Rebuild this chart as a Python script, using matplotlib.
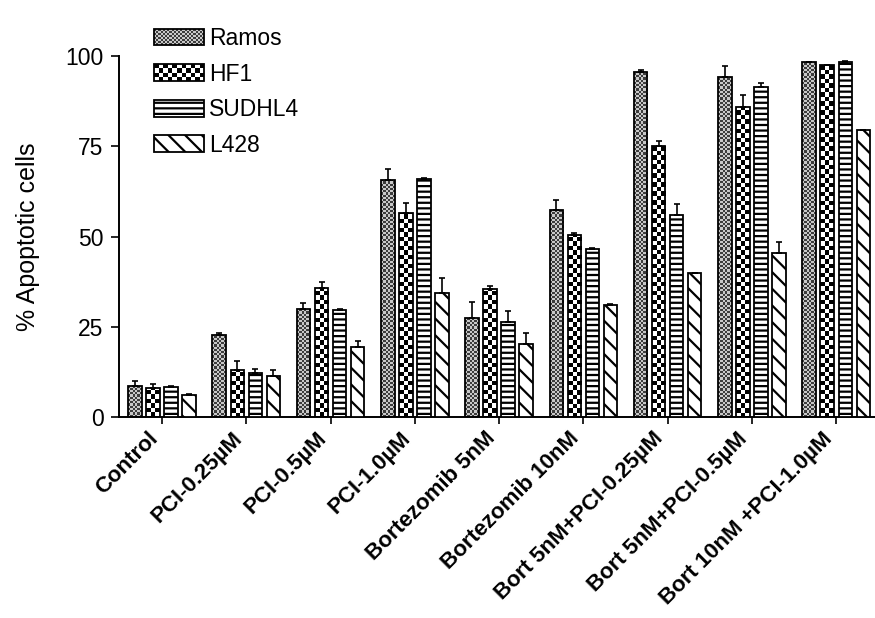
import numpy as np
import matplotlib
matplotlib.use("Agg")
import matplotlib.pyplot as plt
from matplotlib.colors import ListedColormap
from matplotlib.patches import Rectangle
from matplotlib.legend_handler import HandlerBase

plt.rcParams['font.family'] = ['Liberation Sans', 'DejaVu Sans']
plt.rcParams['hatch.linewidth'] = 1.6

treatments = ["Control", "PCI-0.25µM", "PCI-0.5µM", "PCI-1.0µM",
              "Bortezomib 5nM", "Bortezomib 10nM", "Bort 5nM+PCI-0.25µM",
              "Bort 5nM+PCI-0.5µM", "Bort 10nM +PCI-1.0µM"]
cell_lines = ["Ramos", "HF1", "SUDHL4", "L428"]

ramos = [8.6, 22.7, 29.9, 65.6, 27.3, 57.3, 95.6, 94.3, 98.2]
ramos_err = [1.4, 0.5, 1.8, 3.1, 4.6, 2.9, 0.5, 2.9, 0.0]
hf1 = [7.9, 13.0, 35.6, 56.4, 35.4, 50.4, 75.1, 86.0, 97.6]
hf1_err = [1.2, 2.6, 1.7, 2.9, 0.9, 0.6, 1.4, 3.2, 0.0]
sudhl4 = [8.2, 12.1, 29.6, 66.0, 26.3, 46.4, 56.0, 91.5, 98.2]
sudhl4_err = [0.3, 1.3, 0.3, 0.3, 3.0, 0.3, 2.9, 1.1, 0.5]
l428 = [6.1, 11.4, 19.3, 34.3, 20.3, 31.0, 40.0, 45.5, 79.6]
l428_err = [0.3, 1.6, 1.8, 4.2, 2.9, 0.3, 0.0, 2.9, 0.0]

values = [ramos, hf1, sudhl4, l428]
errors = [ramos_err, hf1_err, sudhl4_err, l428_err]

# fill styles: checker (cell px, dark, light) or hatch
styles = [
    dict(kind="checker", cell=2.2, dark="#3c3c3c", light="#c8c8c8"),
    dict(kind="checker", cell=4.5, dark="#000000", light="#ffffff"),
    dict(kind="hatch", hatch="---"),
    dict(kind="hatch", hatch="\\\\"),
]

step = 0.214
width = 0.16

fig = plt.figure(figsize=(8.75, 6.18), dpi=100)
ax = fig.add_axes([119 / 875, 1 - 417 / 618, 756 / 875, 361 / 618])
ax.set_xlim(-0.51, 8.46)
ax.set_ylim(0, 100)

# pixel size of one data unit, used to size the checker cells
p0 = ax.transData.transform((0, 0))
p1 = ax.transData.transform((1, 1))
sx, sy = p1[0] - p0[0], p1[1] - p0[1]


def checker_fill(bars, cell, dark, light):
    cmap = ListedColormap([light, dark])
    for bar in bars:
        x0, w, h = bar.get_x(), bar.get_width(), bar.get_height()
        ncols = max(1, int(round(w * sx / cell)))
        nrows = max(1, int(np.ceil(h * sy / cell)))
        grid = np.add.outer(np.arange(nrows), np.arange(ncols)) % 2
        im = ax.imshow(grid, cmap=cmap, extent=(x0, x0 + w, 0, nrows * cell / sy),
                       origin="lower", interpolation="nearest", aspect="auto", zorder=2)
        im.set_clip_path(bar)


x = np.arange(len(treatments))
for k, (vals, errs, st) in enumerate(zip(values, errors, styles)):
    pos = x + (k - 1.5) * step
    if st["kind"] == "checker":
        bars = ax.bar(pos, vals, width, color="white", linewidth=0, zorder=1)
        checker_fill(bars, st["cell"], st["dark"], st["light"])
        ax.bar(pos, vals, width, fill=False, edgecolor="black", linewidth=1.3, zorder=3)
    else:
        ax.bar(pos, vals, width, color="white", edgecolor="black", hatch=st["hatch"],
               linewidth=1.3, zorder=3)
    ax.errorbar(pos, vals, yerr=[np.zeros(len(errs)), errs], fmt="none",
                ecolor="black", elinewidth=1.2, capsize=2.5, capthick=1.2, zorder=4)

ax.set_xlim(-0.51, 8.46)
ax.set_ylim(0, 100)


class CheckerHandler(HandlerBase):
    def __init__(self, cell, dark, light):
        super().__init__()
        self.cell, self.dark, self.light = cell, dark, light

    def create_artists(self, legend, orig_handle, xdescent, ydescent, width, height,
                       fontsize, trans):
        cell = self.cell * 72 / 100
        ncols = max(1, int(round(width / cell)))
        nrows = max(1, int(round(height / cell)))
        cw, ch = width / ncols, height / nrows
        arts = [Rectangle((-xdescent, -ydescent), width, height, facecolor=self.light,
                          edgecolor="none", transform=trans)]
        for i in range(nrows):
            for j in range(ncols):
                if (i + j) % 2:
                    arts.append(Rectangle((-xdescent + j * cw, -ydescent + i * ch), cw, ch,
                                          facecolor=self.dark, edgecolor="none",
                                          transform=trans))
        arts.append(Rectangle((-xdescent, -ydescent), width, height, fill=False,
                              edgecolor="black", linewidth=1.3, transform=trans))
        return arts


handles = []
handler_map = {}
for name, st in zip(cell_lines, styles):
    if st["kind"] == "checker":
        h = Rectangle((0, 0), 1, 1, label=name)
        handler_map[h] = CheckerHandler(st["cell"], st["dark"], st["light"])
    else:
        h = Rectangle((0, 0), 1, 1, facecolor="white", edgecolor="black",
                      hatch=st["hatch"], linewidth=1.3, label=name)
    handles.append(h)

ax.legend(handles=handles, handler_map=handler_map, loc="upper left",
          bbox_to_anchor=(154 / 875, 1 - 27 / 618), bbox_transform=fig.transFigure,
          frameon=False, fontsize=16.5, handlelength=2.2, handleheight=0.75,
          handletextpad=0.2, labelspacing=0.55, borderpad=0, borderaxespad=0)

ax.set_xticks(x)
ax.set_xticklabels(treatments, rotation=45, ha="right", fontsize=16, fontweight="bold")
ax.set_yticks([0, 25, 50, 75, 100])
ax.tick_params(axis="y", labelsize=16.5, length=6, width=1.2, pad=5)
ax.tick_params(axis="x", length=5, width=1.2, pad=3)
ax.set_ylabel("% Apoptotic cells", fontsize=18)
ax.yaxis.set_label_coords(-0.105, 0.5)

for side in ("top", "right"):
    ax.spines[side].set_visible(False)
for side in ("left", "bottom"):
    ax.spines[side].set_linewidth(1.4)

fig.savefig("out.png", dpi=100)
